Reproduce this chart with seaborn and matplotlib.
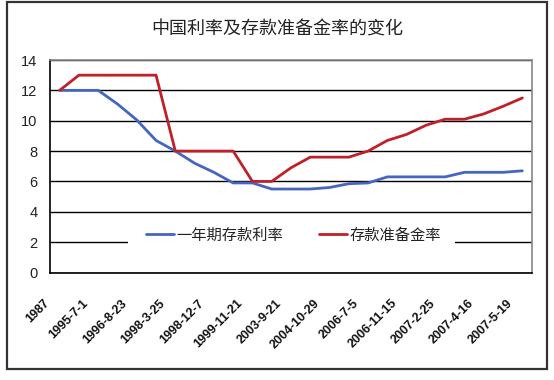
import numpy as np
import pandas as pd
import seaborn as sns
import matplotlib
matplotlib.use("Agg")
import matplotlib.pyplot as plt
from matplotlib.patches import Rectangle
from matplotlib.transforms import ScaledTranslation

# ---------------- data ----------------
title = "中国利率及存款准备金率的变化"
series_names = ["一年期存款利率", "存款准备金率"]
tick_labels = ["1987", "1995-7-1", "1996-8-23", "1998-3-25", "1998-12-7",
               "1999-11-21", "2003-9-21", "2004-10-29", "2006-7-5",
               "2006-11-15", "2007-2-25", "2007-4-16", "2007-5-19"]
deposit_rate = [12, 12, 12, 11.1, 10.05, 8.7, 8.0, 7.2, 6.6, 5.9, 5.9, 5.5, 5.5,
                5.5, 5.6, 5.85, 5.9, 6.3, 6.3, 6.3, 6.3, 6.6, 6.6, 6.6, 6.7]
reserve_ratio = [12, 13, 13, 13, 13, 13, 8, 8, 8, 8, 6, 6, 6.9, 7.6, 7.6,
                 7.6, 8.0, 8.7, 9.1, 9.7, 10.1, 10.1, 10.45, 10.95, 11.5]
y_ticks = [0, 2, 4, 6, 8, 10, 12, 14]

n = len(deposit_rate)
df = pd.DataFrame({
    "idx": list(range(n)) * 2,
    "value": deposit_rate + reserve_ratio,
    "series": [series_names[0]] * n + [series_names[1]] * n,
})

# ---------------- style ----------------
sns.set_theme(style="white")
plt.rcParams["font.family"] = ["Noto Sans CJK SC", "DejaVu Sans"]

W, H = 554, 380
fig = plt.figure(figsize=(W / 100, H / 100), dpi=100)
fig.patch.set_facecolor("white")

left, right, top, bottom = 50, 532, 60, 272.5
ax = fig.add_axes([left / W, 1 - bottom / H, (right - left) / W, (bottom - top) / H])

blue = "#4466c0"
red = "#c02028"
sns.lineplot(data=df, x="idx", y="value", hue="series", palette=[blue, red],
             linewidth=2.0, ax=ax, legend=True)

ax.set_xlim(-0.5, n - 0.5)
ax.set_ylim(0, 14)
ax.set_xlabel("")
ax.set_ylabel("")

# y axis
ax.set_yticks(y_ticks)
ax.set_yticklabels([str(v) for v in y_ticks], family=["Liberation Sans", "DejaVu Sans"],
                   fontsize=10.5, color="#222222")
ax.tick_params(axis="y", length=0, pad=9)
ax.yaxis.grid(True, color="black", linewidth=1.0)
ax.set_axisbelow(True)

# x axis: tick marks at category boundaries, labels at every other category
ax.set_xticks(np.arange(-0.5, n, 1.0))
ax.set_xticklabels([])
ax.tick_params(axis="x", which="major", direction="in", length=4, width=1, color="black")
ax.set_xticks(np.arange(0, n, 2), minor=True)
ax.set_xticklabels(tick_labels, minor=True, rotation=45, ha="right",
                   rotation_mode="anchor", fontsize=9, fontweight="bold",
                   family=["Liberation Sans", "DejaVu Sans"], color="#111111")
ax.tick_params(axis="x", which="minor", length=0, pad=2)
offset = ScaledTranslation(-0.16, -0.22, fig.dpi_scale_trans)
for lab in ax.get_xticklabels(minor=True):
    lab.set_transform(lab.get_transform() + offset)

# spines
for s in ["left", "bottom"]:
    ax.spines[s].set_color("black")
    ax.spines[s].set_linewidth(1.2)
for s in ["top", "right"]:
    ax.spines[s].set_color("#888888")
    ax.spines[s].set_linewidth(1.2)

# white legend background (covers part of the 2-gridline as in the reference)
ax.add_patch(Rectangle(((128 - left) / (right - left), (bottom - 252) / (bottom - top)),
                       (455 - 128) / (right - left), 30 / (bottom - top),
                       transform=ax.transAxes, facecolor="white", edgecolor="none",
                       zorder=1.5))

# legend
handles, labels = ax.get_legend_handles_labels()
leg = ax.legend(handles, labels, loc="center", bbox_to_anchor=(0.505, 0.175),
                ncol=2, frameon=False, handlelength=1.85,
                handletextpad=0.15, columnspacing=2.3, borderpad=0.3,
                prop={"size": 11, "family": ["Noto Sans CJK SC", "DejaVu Sans"]})
for t in leg.get_texts():
    t.set_color("#222222")

# title
fig.text(0.5, 1 - 30 / H, title, ha="center", va="center", fontsize=13,
         color="#222222", family=["Noto Sans CJK SC", "DejaVu Sans"])

# outer frame
fig.patches.append(Rectangle((7 / W, 1 - 369 / H), (547 - 7) / W, (369 - 2) / H,
                             transform=fig.transFigure, fill=False,
                             edgecolor="#333333", linewidth=1.6))

fig.savefig("out.png", dpi=100)
